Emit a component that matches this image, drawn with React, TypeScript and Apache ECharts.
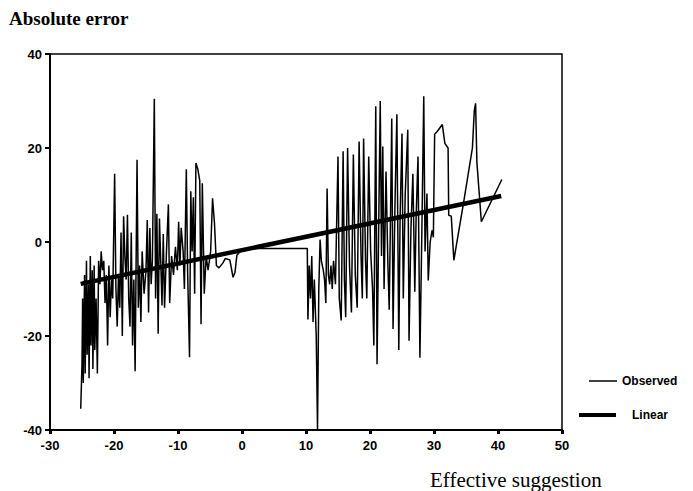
import React, { useEffect, useRef } from "react";
import * as echarts from "echarts";

const xTicks = { min: -30, max: 50, interval: 10 };
const yTicks = { min: -40, max: 40, interval: 20 };

const obsX = [
  -25.2, -25.0, -24.9, -24.8, -24.6, -24.5, -24.3, -24.2, -24.0, -23.9, -23.7, -23.6, -23.4, -23.3, -23.1, -23.0,
  -22.8, -22.6, -22.4, -22.2, -22.0, -21.8, -21.6, -21.4, -21.2, -21.0, -20.8, -20.6, -20.4, -20.2, -19.9, -19.7,
  -19.5, -19.3, -19.1, -18.9, -18.7, -18.5, -18.3, -18.1, -17.9, -17.7, -17.5, -17.3, -17.1, -16.9, -16.7, -16.4,
  -16.2, -16.0, -15.8, -15.6, -15.3, -15.0, -14.8, -14.6, -14.4, -14.2, -14.0, -13.7, -13.5, -13.3, -13.1, -12.9,
  -12.7, -12.5, -12.3, -12.1, -11.8, -11.5, -11.3, -11.0, -10.7, -10.4, -10.1, -9.9, -9.7, -9.5, -9.2, -9.0,
  -8.7, -8.5, -8.2, -8.0, -7.8, -7.6, -7.4, -7.2, -6.9, -6.6, -6.4, -6.2, -5.9, -5.6, -5.3, -4.9,
  -4.6, -4.3, -4.0, -3.6, -3.0, -2.6, -1.9, -1.4, -1.1, -0.8, -0.3, 0.5, 1.5, 10.2,
  10.3, 10.5, 10.7, 10.9, 11.1, 11.3, 11.6, 11.8, 12.0, 12.2, 12.4, 12.7, 12.9, 13.1, 13.3, 13.5,
  13.7, 13.9, 14.1, 14.3, 14.6, 15.0, 15.2, 15.5, 15.8, 16.0, 16.2, 16.5, 16.8, 17.1, 17.4, 17.7,
  18.0, 18.3, 18.6, 18.8, 19.0, 19.3, 19.5, 19.8, 20.1, 20.4, 20.6, 20.9, 21.1, 21.4, 21.6, 21.8,
  22.0, 22.2, 22.5, 22.8, 23.0, 23.2, 23.4, 23.6, 23.9, 24.2, 24.5, 24.7, 25.0, 25.2, 25.5, 25.9,
  26.1, 26.4, 26.7, 27.0, 27.2, 27.5, 27.8, 28.1, 28.4, 28.6, 28.9, 29.1, 29.4, 29.7, 29.9, 30.1,
  30.5, 31.3, 31.7, 32.2, 32.3, 32.7, 33.1, 34.7, 36.0, 36.3, 36.5, 36.7, 37.4, 40.6,
];
const obsY = [
  -35.5, -26, -12, -30, -7, -28, -4, -24, -9, -29, -3, -22, -6, -27, -5, -23,
  -12, -28, -4, -9, -2, -6, -4, -13, -7, -22, -5, -16, -8, -12, 14.5, -10,
  -18, -7, -14, 2, -20, 5.5, -3, -8, 5.8, -12, -18, 2, -22, -8, -27.5, 17.5,
  -14, -5, -17, -2, -11, -6, 4.7, -15, 3, -9, -4, 30.5, -12, 6, -19.5, 5,
  -4, -13.5, 1.7, -14, -2, 8, -13, -3, -7, -1, -6, 4.3, -5, 3, -2, -10,
  15.5, -6, -24.5, 10.8, -2, 9.5, -11, 16.8, 15.5, 13, -17.5, 12.5, -11, -3, -6, -2,
  9.3, 4, -5, -5.5, -4.5, -3.5, -3.8, -7.5, -6.5, -2.8, -2, -1.8, -1.4, -1.4,
  -16.5, -5, -12, -3, -17, -8, -20, -40, -10, 0.5, -4, -6, -8, -13, 11.4, -7,
  -9, -5, -10, -4, -9, 18.2, -12, -16.7, 19.3, -8, -16, 20, -5, -15, 18.6, -7,
  -14, 21.4, -3, -12, 22, -4, -12, 18.2, -2, -10, -22, 28.9, -26, 8, 30, -3,
  20.3, -10, 15, -5, -14.4, 5, 26.3, -18.5, 8, 27.2, -23, 5, 23.1, -12, 10, 23.9,
  -21, 3, 14.5, -10.6, 5, 18.2, -24.6, 2, 31, -2, 10.3, -8.2, 0, 2.5, 1, 22.9,
  23.5, 25, 21, 20, 5.7, 5.5, -3.9, 9, 20, 28, 29.5, 17, 4.3, 13.3,
];

const linX = [-25.2, 40.5];
const linY = [-8.9, 9.8];

export default function App() {
  const ref = useRef<HTMLDivElement>(null);
  useEffect(() => {
    if (!ref.current) return;
    const chart = echarts.init(ref.current, null, { renderer: "svg" });
    const tickFont = {
      color: "#000",
      fontFamily: "Liberation Sans, Arial, sans-serif",
      fontWeight: "bold" as const,
      fontSize: 13,
    };
    const legendFont = {
      color: "#000",
      fontSize: 12,
      fontWeight: "bold" as const,
      fontFamily: "Liberation Sans Narrow, Arial Narrow, Liberation Sans, sans-serif",
    };
    chart.setOption({
      animation: false,
      backgroundColor: "#fff",
      grid: {
        left: 50,
        right: 131,
        top: 54,
        bottom: 61,
        show: true,
        borderColor: "#000",
        borderWidth: 1.5,
        backgroundColor: "transparent",
      },
      xAxis: {
        type: "value",
        min: xTicks.min,
        max: xTicks.max,
        interval: xTicks.interval,
        splitLine: { show: false },
        axisLine: { show: true, onZero: false, lineStyle: { color: "#000", width: 2 } },
        axisTick: { show: true, length: 4, lineStyle: { color: "#000", width: 3 } },
        axisLabel: { ...tickFont, margin: 9 },
      },
      yAxis: {
        type: "value",
        min: yTicks.min,
        max: yTicks.max,
        interval: yTicks.interval,
        splitLine: { show: false },
        axisLine: { show: true, onZero: false, lineStyle: { color: "#000", width: 2 } },
        axisTick: { show: true, length: 5, lineStyle: { color: "#000", width: 2 } },
        axisLabel: { ...tickFont, margin: 8 },
      },
      legend: [
        {
          data: [{ name: "Observed", icon: "rect" }],
          left: 584,
          top: 370,
          itemWidth: 28,
          itemHeight: 1.5,
          itemGap: 10,
          textStyle: { ...legendFont, padding: [0, 0, 0, 0] },
        },
        {
          data: [{ name: "Linear", icon: "rect" }],
          left: 574,
          top: 404,
          itemWidth: 37,
          itemHeight: 4,
          textStyle: { ...legendFont, padding: [0, 0, 0, 11] },
        },
      ],
      graphic: [
        {
          type: "text",
          left: 9,
          top: 9,
          style: {
            text: "Absolute error",
            fill: "#000",
            font: "bold 19px 'Liberation Serif', 'Times New Roman', serif",
          },
        },
        {
          type: "text",
          left: 430,
          top: 469,
          style: {
            text: "Effective suggestion",
            fill: "#000",
            font: "21px 'Liberation Serif', 'Times New Roman', serif",
          },
        },
      ],
      series: [
        {
          name: "Observed",
          type: "line",
          data: obsX.map((x, i) => [x, obsY[i]]),
          symbol: "none",
          lineStyle: { color: "#000", width: 1.5 },
          itemStyle: { color: "#000" },
          z: 2,
        },
        {
          name: "Linear",
          type: "line",
          data: linX.map((x, i) => [x, linY[i]]),
          symbol: "none",
          lineStyle: { color: "#000", width: 4.5 },
          itemStyle: { color: "#000" },
          z: 3,
        },
      ],
    });
    return () => chart.dispose();
  }, []);
  return (
    <div
      ref={ref}
      style={{ position: "fixed", left: 0, top: 0, width: 693, height: 491, background: "#fff" }}
    />
  );
}
